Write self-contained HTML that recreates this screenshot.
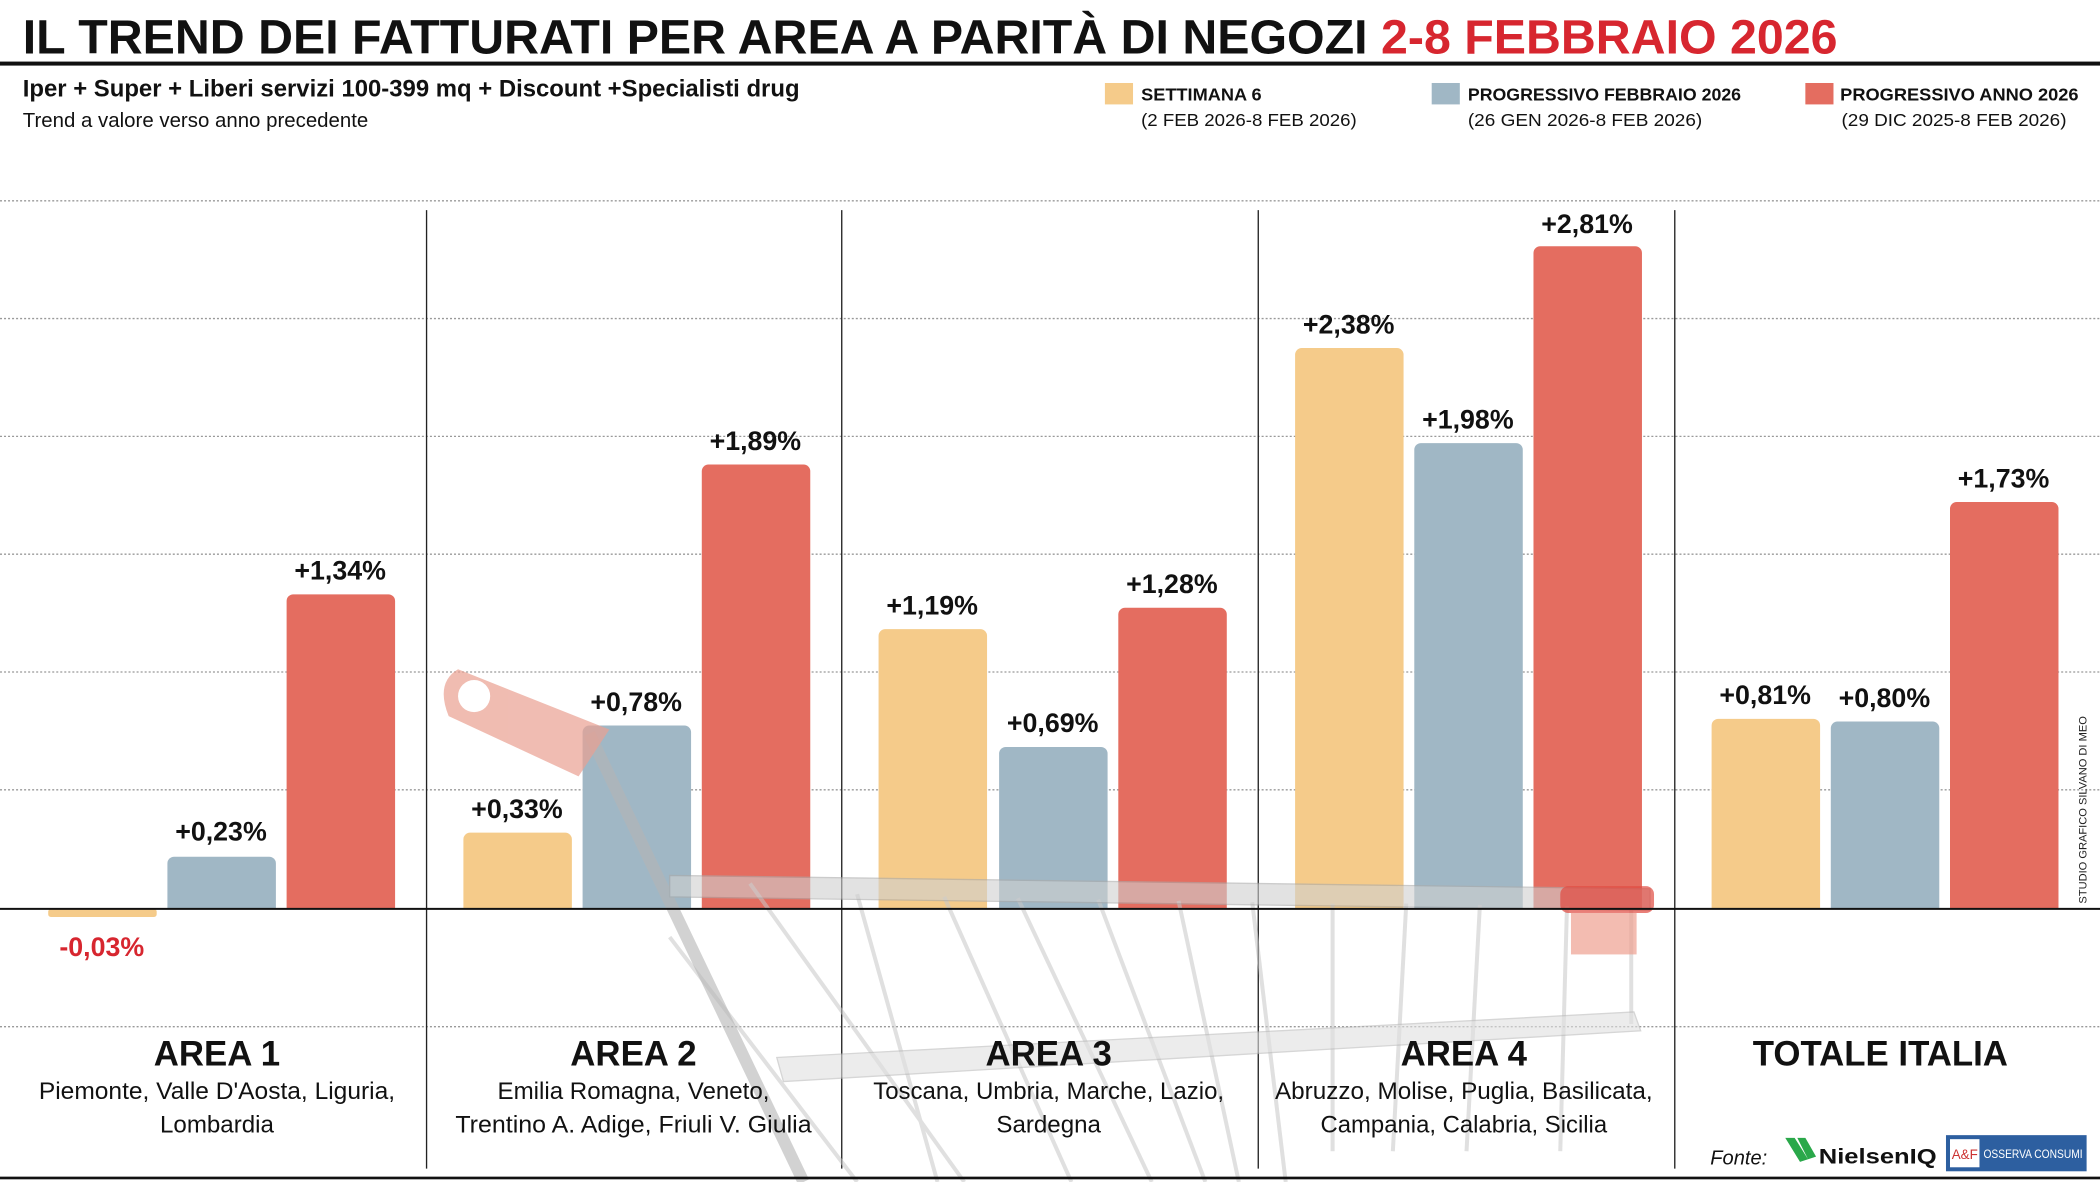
<!DOCTYPE html>
<html><head><meta charset="utf-8"><style>html,body{margin:0;padding:0;background:#fff}svg{display:block}</style></head>
<body>
<svg width="2100" height="1182" viewBox="0 0 1568 883" preserveAspectRatio="none" xmlns="http://www.w3.org/2000/svg" font-family="Liberation Sans, sans-serif">
<rect width="1568" height="883" fill="#fff"/>
<text x="17" y="40" font-size="36" font-weight="bold" fill="#111" textLength="1355" lengthAdjust="spacingAndGlyphs">IL TREND DEI FATTURATI PER AREA A PARITÀ DI NEGOZI <tspan fill="#d7262f">2-8 FEBBRAIO 2026</tspan></text>
<rect x="0" y="46" width="1568" height="3" fill="#111"/>
<text x="17" y="72" font-size="18" font-weight="bold" fill="#111" textLength="580" lengthAdjust="spacingAndGlyphs">Iper + Super + Liberi servizi 100-399 mq + Discount +Specialisti drug</text>
<text x="17" y="95" font-size="15" fill="#111" textLength="258" lengthAdjust="spacingAndGlyphs">Trend a valore verso anno precedente</text>
<g font-size="13" fill="#111">
<rect x="825" y="62" width="21" height="16" fill="#f5cb8a"/>
<text x="852" y="75" font-weight="bold" textLength="90" lengthAdjust="spacingAndGlyphs">SETTIMANA 6</text>
<text x="852" y="94" textLength="161" lengthAdjust="spacingAndGlyphs">(2 FEB 2026-8 FEB 2026)</text>
<rect x="1069" y="62" width="21" height="16" fill="#a0b7c5"/>
<text x="1096" y="75" font-weight="bold" textLength="204" lengthAdjust="spacingAndGlyphs">PROGRESSIVO FEBBRAIO 2026</text>
<text x="1096" y="94" textLength="175" lengthAdjust="spacingAndGlyphs">(26 GEN 2026-8 FEB 2026)</text>
<rect x="1348" y="62" width="21" height="16" fill="#e46d60"/>
<text x="1374" y="75" font-weight="bold" textLength="178" lengthAdjust="spacingAndGlyphs">PROGRESSIVO ANNO 2026</text>
<text x="1375" y="94" textLength="168" lengthAdjust="spacingAndGlyphs">(29 DIC 2025-8 FEB 2026)</text>
</g>
<g stroke="#999" stroke-width="1" stroke-dasharray="1.5,1.5">
<line x1="0" y1="150" x2="1568" y2="150"/><line x1="0" y1="238" x2="1568" y2="238"/><line x1="0" y1="326" x2="1568" y2="326"/><line x1="0" y1="414" x2="1568" y2="414"/><line x1="0" y1="502" x2="1568" y2="502"/><line x1="0" y1="590" x2="1568" y2="590"/><line x1="0" y1="767" x2="1568" y2="767"/>
</g>
<g stroke="#222" stroke-width="1">
<line x1="318.5" y1="157" x2="318.5" y2="873"/><line x1="628.5" y1="157" x2="628.5" y2="873"/><line x1="939.5" y1="157" x2="939.5" y2="873"/><line x1="1250.5" y1="157" x2="1250.5" y2="873"/>
</g>
<g>
<rect x="36" y="679" width="81" height="6" fill="#f5cb8a" rx="2"/>
<path d="M125 679V645a5 5 0 0 1 5-5h71a5 5 0 0 1 5 5V679Z" fill="#a0b7c5"/>
<path d="M214 679V449a5 5 0 0 1 5-5h71a5 5 0 0 1 5 5V679Z" fill="#e46d60"/>
<path d="M346 679V627a5 5 0 0 1 5-5h71a5 5 0 0 1 5 5V679Z" fill="#f5cb8a"/>
<path d="M435 679V547a5 5 0 0 1 5-5h71a5 5 0 0 1 5 5V679Z" fill="#a0b7c5"/>
<path d="M524 679V352a5 5 0 0 1 5-5h71a5 5 0 0 1 5 5V679Z" fill="#e46d60"/>
<path d="M656 679V475a5 5 0 0 1 5-5h71a5 5 0 0 1 5 5V679Z" fill="#f5cb8a"/>
<path d="M746 679V563a5 5 0 0 1 5-5h71a5 5 0 0 1 5 5V679Z" fill="#a0b7c5"/>
<path d="M835 679V459a5 5 0 0 1 5-5h71a5 5 0 0 1 5 5V679Z" fill="#e46d60"/>
<path d="M967 679V265a5 5 0 0 1 5-5h71a5 5 0 0 1 5 5V679Z" fill="#f5cb8a"/>
<path d="M1056 679V336a5 5 0 0 1 5-5h71a5 5 0 0 1 5 5V679Z" fill="#a0b7c5"/>
<path d="M1145 679V189a5 5 0 0 1 5-5h71a5 5 0 0 1 5 5V679Z" fill="#e46d60"/>
<path d="M1278 679V542a5 5 0 0 1 5-5h71a5 5 0 0 1 5 5V679Z" fill="#f5cb8a"/>
<path d="M1367 679V544a5 5 0 0 1 5-5h71a5 5 0 0 1 5 5V679Z" fill="#a0b7c5"/>
<path d="M1456 679V380a5 5 0 0 1 5-5h71a5 5 0 0 1 5 5V679Z" fill="#e46d60"/>
</g>
<g opacity="0.55" fill="none" stroke="#c8c8c8" stroke-width="3">
<line x1="640" y1="668" x2="700" y2="883"/><line x1="705" y1="670" x2="800" y2="883"/><line x1="760" y1="671" x2="860" y2="883"/><line x1="820" y1="672" x2="900" y2="883"/><line x1="880" y1="673" x2="925" y2="883"/><line x1="935" y1="674" x2="960" y2="883"/><line x1="995" y1="675" x2="995" y2="860"/><line x1="1050" y1="675" x2="1040" y2="860"/><line x1="1105" y1="676" x2="1095" y2="860"/><line x1="1170" y1="677" x2="1165" y2="860"/><line x1="1218" y1="680" x2="1218" y2="765"/>
<line x1="500" y1="700" x2="640" y2="883"/><line x1="560" y1="660" x2="720" y2="883"/>
</g>
<g opacity="0.6">
<path d="M440 548 L600 883" stroke="#b5b5b5" stroke-width="9"/>
<path d="M500 654 L1232 664 L1232 680 L500 670Z" fill="#d0d0d0" stroke="#aaa"/>
<path d="M580 790 L1220 756 L1225 770 L585 808Z" fill="#e0e0e0" stroke="#bbb"/>
</g>
<g opacity="0.7">
<path d="M342 500 L455 545 L432 580 L335 535 Q325 510 342 500Z" fill="#eaa091"/>
<circle cx="354" cy="520" r="12" fill="#fff"/>
<rect x="1165" y="662" width="70" height="20" rx="6" fill="#e04a40"/>
<rect x="1173" y="682" width="49" height="31" fill="#eea091"/>
</g>
<line x1="0" y1="679" x2="1568" y2="679" stroke="#111" stroke-width="1.5"/>
<g font-size="20" font-weight="bold" fill="#111" text-anchor="middle">
<text x="76" y="714" fill="#d7262f">-0,03%</text>
<text x="165" y="628">+0,23%</text>
<text x="254" y="433">+1,34%</text>
<text x="386" y="611">+0,33%</text>
<text x="475" y="531">+0,78%</text>
<text x="564" y="336">+1,89%</text>
<text x="696" y="459">+1,19%</text>
<text x="786" y="547">+0,69%</text>
<text x="875" y="443">+1,28%</text>
<text x="1007" y="249">+2,38%</text>
<text x="1096" y="320">+1,98%</text>
<text x="1185" y="174">+2,81%</text>
<text x="1318" y="526">+0,81%</text>
<text x="1407" y="528">+0,80%</text>
<text x="1496" y="364">+1,73%</text>
</g>
<g text-anchor="middle" fill="#111">
<g font-size="26" font-weight="bold">
<text x="162" y="796">AREA 1</text><text x="473" y="796">AREA 2</text><text x="783" y="796">AREA 3</text><text x="1093" y="796">AREA 4</text><text x="1404" y="796">TOTALE ITALIA</text>
</g>
<g font-size="18">
<text x="162" y="821" textLength="266" lengthAdjust="spacingAndGlyphs">Piemonte, Valle D'Aosta, Liguria,</text>
<text x="162" y="846">Lombardia</text>
<text x="473" y="821">Emilia Romagna, Veneto,</text>
<text x="473" y="846" textLength="266" lengthAdjust="spacingAndGlyphs">Trentino A. Adige, Friuli V. Giulia</text>
<text x="783" y="821" textLength="262" lengthAdjust="spacingAndGlyphs">Toscana, Umbria, Marche, Lazio,</text>
<text x="783" y="846">Sardegna</text>
<text x="1093" y="821" textLength="282" lengthAdjust="spacingAndGlyphs">Abruzzo, Molise, Puglia, Basilicata,</text>
<text x="1093" y="846" textLength="214" lengthAdjust="spacingAndGlyphs">Campania, Calabria, Sicilia</text>
</g>
</g>
<text transform="translate(1558,675) rotate(-90)" font-size="8" fill="#222" textLength="140" lengthAdjust="spacingAndGlyphs">STUDIO GRAFICO SILVANO DI MEO</text>
<text x="1277" y="870" font-size="15" font-style="italic" fill="#111">Fonte:</text>
<path d="M1333 850 L1340 850 L1350 866 L1344 868Z M1342 850 L1348 850 L1356 864 L1350 866Z" fill="#2aa84a"/>
<text x="1358" y="869" font-size="16" font-weight="bold" fill="#111" textLength="88" lengthAdjust="spacingAndGlyphs">NielsenIQ</text>
<rect x="1453" y="848" width="105" height="27" fill="#2d5fa0"/>
<rect x="1456" y="851" width="22" height="21" fill="#fff"/>
<text x="1467" y="866" font-size="10" fill="#c33" text-anchor="middle">A&amp;F</text>
<text x="1481" y="865" font-size="9" fill="#fff" textLength="74" lengthAdjust="spacingAndGlyphs">OSSERVA CONSUMI</text>
<rect x="0" y="879" width="1568" height="2" fill="#111"/>
</svg>
</body></html>
